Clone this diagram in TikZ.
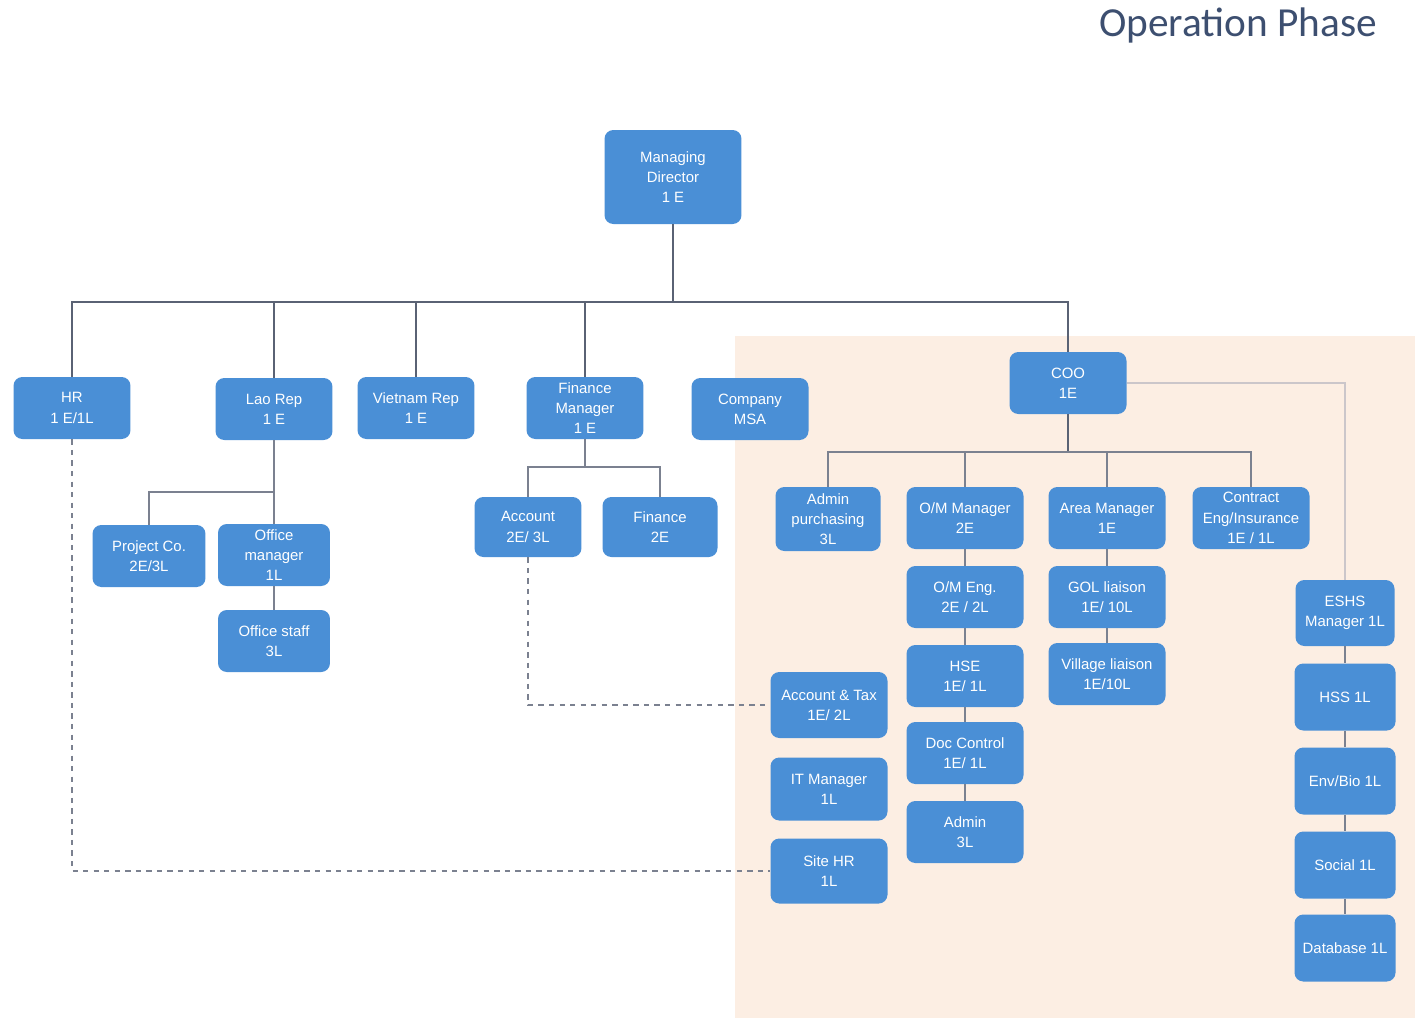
\documentclass[tikz,border=0pt]{standalone}
\usepackage{fontspec}
\setmainfont{Liberation Sans}
\newfontfamily\titlefont{Carlito}
\usetikzlibrary{positioning}

\definecolor{boxblue}{HTML}{4A8FD6}
\definecolor{linegray}{HTML}{5A6274}
\definecolor{palegray}{HTML}{CBC6CA}
\definecolor{peach}{HTML}{FCEEE3}
\definecolor{titleblue}{HTML}{3D4F70}

\tikzset{
  box/.style={rounded corners=5pt, fill=boxblue, text=white, align=center,
    inner sep=0pt, minimum width=2.34cm, minimum height=1.24cm,
    font=\fontsize{8.5}{11.5}\selectfont},
  link/.style={draw=linegray, line width=0.8pt},
  sublink/.style={draw=linegray!80, line width=0.6pt},
  palelink/.style={draw=palegray, line width=1.4pt},
  dotlink/.style={draw=linegray!80, line width=0.6pt, dashed}
}

\begin{document}
\begin{tikzpicture}[x=0.02cm, y=-0.02cm]
  \useasboundingbox (0,0) rectangle (1415,1022);
  \fill[white] (0,0) rectangle (1415,1022);
  % operations area
  \fill[peach] (735,336) rectangle (1415,1018);

  \node[text=titleblue, font=\titlefont\fontsize{23.5}{28}\selectfont] (title) at (1238,25) {Operation Phase};

  % top level
  \node[box, minimum width=2.74cm, minimum height=1.88cm] (md) at (673,177) {Managing\\ Director\\ 1 E};

  \node[box] (hr) at (72,408) {HR\\ 1 E/1L};
  \node[box] (lao) at (274,409) {Lao Rep\\ 1 E};
  \node[box] (vn) at (416,408) {Vietnam Rep\\ 1 E};
  \node[box] (fin) at (585,408) {Finance\\ Manager\\ 1 E};
  \node[box] (comp) at (750,409) {Company\\ MSA};
  \node[box] (coo) at (1068,383) {COO\\ 1E};

  % Lao Rep branch
  \node[box, minimum width=2.26cm] (proj) at (149,556) {Project Co.\\ 2E/3L};
  \node[box, minimum width=2.24cm] (offm) at (274,555) {Office\\ manager\\ 1L};
  \node[box, minimum width=2.24cm] (offs) at (274,641) {Office staff\\ 3L};

  % finance branch
  \node[box, minimum width=2.14cm, minimum height=1.2cm] (acct) at (528,527) {Account\\ 2E/ 3L};
  \node[box, minimum width=2.3cm, minimum height=1.2cm] (finc) at (660,527) {Finance\\ 2E};

  % COO branch
  \node[box, minimum width=2.1cm, minimum height=1.28cm] (adm) at (828,519) {Admin\\ purchasing\\ 3L};
  \node[box] (omm) at (965,518) {O/M Manager\\ 2E};
  \node[box] (area) at (1107,518) {Area Manager\\ 1E};
  \node[box] (ctr) at (1251,518) {Contract\\ Eng/Insurance\\ 1E / 1L};

  \node[box] (omeng) at (965,597) {O/M Eng.\\ 2E / 2L};
  \node[box] (hse) at (965,676) {HSE\\ 1E/ 1L};
  \node[box] (doc) at (965,753) {Doc Control\\ 1E/ 1L};
  \node[box] (admin) at (965,832) {Admin\\ 3L};

  \node[box] (gol) at (1107,597) {GOL liaison\\ 1E/ 10L};
  \node[box] (vil) at (1107,674) {Village liaison\\ 1E/10L};

  \node[box, minimum height=1.32cm] (tax) at (829,705) {Account \& Tax\\ 1E/ 2L};
  \node[box, minimum height=1.26cm] (itm) at (829,789) {IT Manager\\ 1L};
  \node[box, minimum height=1.3cm] (site) at (829,871) {Site HR\\ 1L};

  % ESHS column
  \node[box, minimum width=1.98cm, minimum height=1.32cm] (eshs) at (1345,613) {ESHS\\ Manager 1L};
  \node[box, minimum width=2.02cm, minimum height=1.34cm] (hss) at (1345,697) {HSS 1L};
  \node[box, minimum width=2.02cm, minimum height=1.34cm] (env) at (1345,781) {Env/Bio 1L};
  \node[box, minimum width=2.02cm, minimum height=1.34cm] (soc) at (1345,865) {Social 1L};
  \node[box, minimum width=2.02cm, minimum height=1.34cm] (db) at (1345,948) {Database 1L};

  % connectors
  \coordinate (bar) at (0,302);
  \draw[link] (md.south) -- (md.south |- bar);
  \draw[link] (hr.north) -- (hr.north |- bar) -- (coo.north |- bar) -- (coo.north);
  \foreach \n in {lao, vn, fin}
    \draw[link] (\n.north) -- (\n.north |- bar);

  \coordinate (laobar) at (0,492);
  \draw[sublink] (lao.south) -- (offm.north);
  \draw[sublink] (proj.north) -- (proj.north |- laobar) -- (lao.south |- laobar);
  \draw[sublink] (offm.south) -- (offs.north);

  \coordinate (finbar) at (0,467);
  \draw[sublink] (fin.south) -- (fin.south |- finbar);
  \draw[sublink] (acct.north) -- (acct.north |- finbar) -- (finc.north |- finbar) -- (finc.north);

  \coordinate (coobar) at (0,452);
  \draw[link] (coo.south) -- (coo.south |- coobar);
  \draw[sublink] (adm.north) -- (adm.north |- coobar) -- (ctr.north |- coobar) -- (ctr.north);
  \foreach \n in {omm, area}
    \draw[sublink] (\n.north) -- (\n.north |- coobar);

  \foreach \a/\b in {omm/omeng, omeng/hse, hse/doc, doc/admin, area/gol, gol/vil}
    \draw[sublink] (\a.south) -- (\b.north);

  \draw[palelink] (coo.east) -| (eshs.north);
  \foreach \a/\b in {eshs/hss, hss/env, env/soc, soc/db}
    \draw[sublink] (\a.south) -- (\b.north);

  % dotted reporting lines
  \draw[dotlink] (hr.south) |- (site.west);
  \draw[dotlink] (acct.south) |- (tax.west);
\end{tikzpicture}
\end{document}
